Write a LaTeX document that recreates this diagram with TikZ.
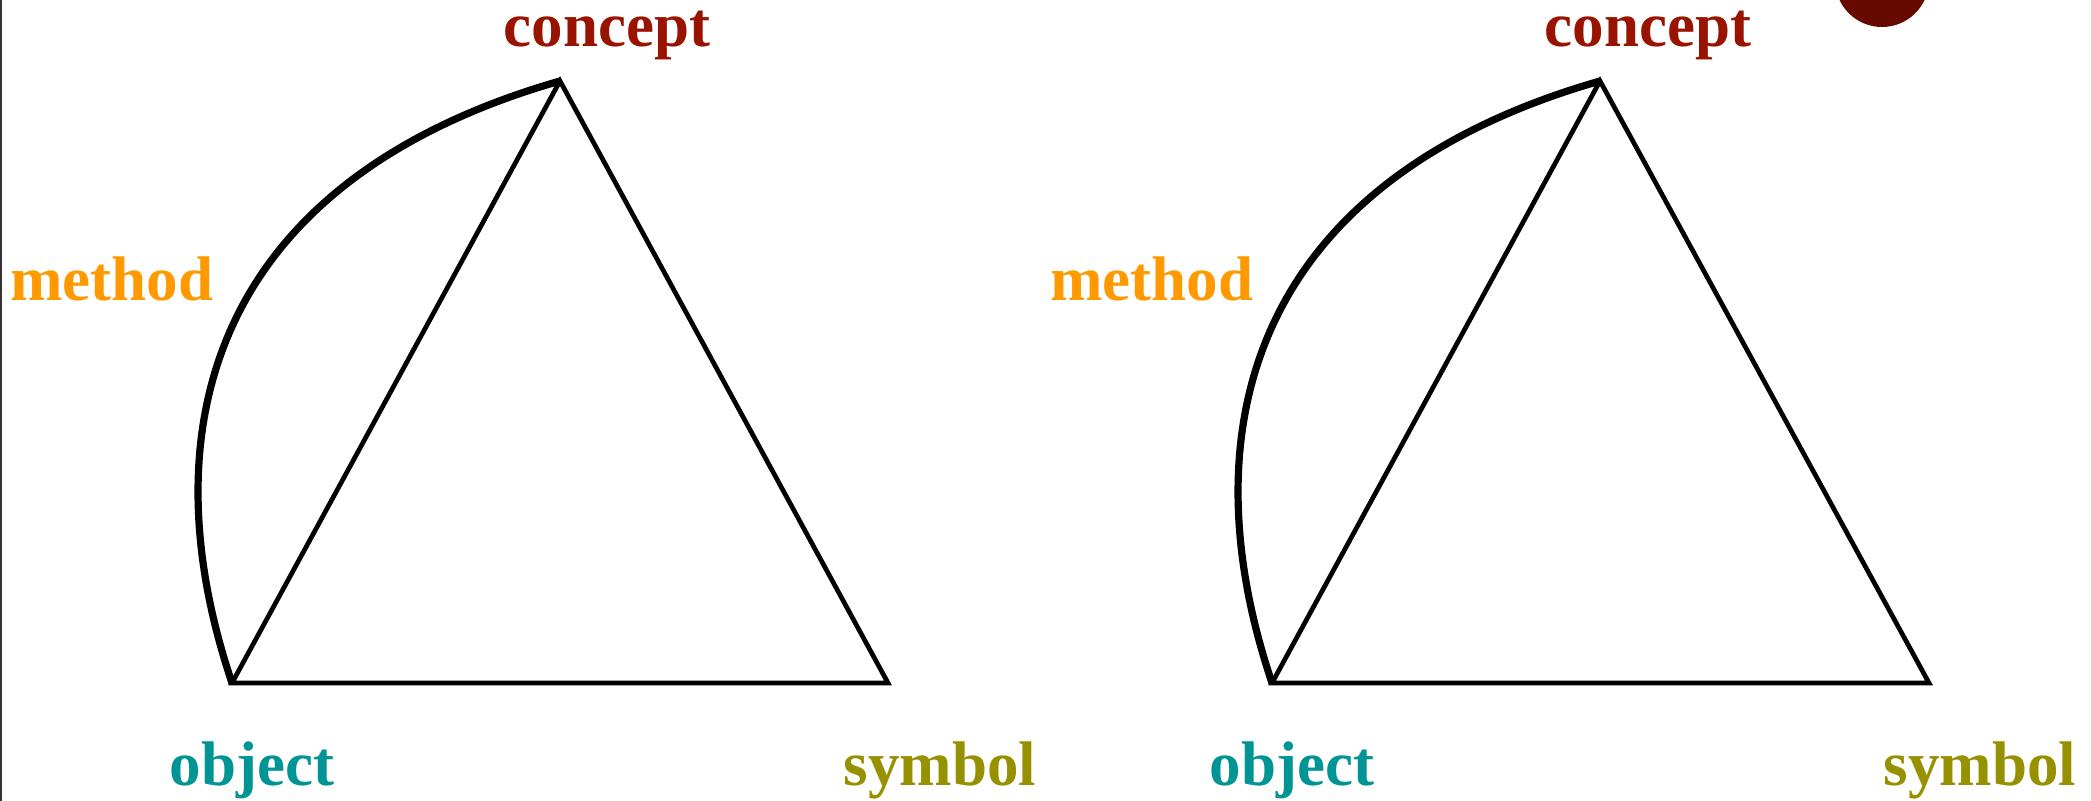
\documentclass[tikz,border=0pt]{standalone}
\usepackage{fontspec}
\setmainfont{Liberation Serif}
\usepackage{xcolor}
\usetikzlibrary{positioning}

\definecolor{conceptred}{RGB}{153,20,0}
\definecolor{methodorange}{RGB}{255,153,0}
\definecolor{objectteal}{RGB}{0,148,148}
\definecolor{symbololive}{RGB}{150,145,0}
\definecolor{dotred}{RGB}{102,10,0}

\begin{document}
\begin{tikzpicture}[
  x=0.5pt, y=-0.5pt,
  lbl/.style={anchor=base, inner sep=0pt, font=\fontsize{31.5}{38}\selectfont\bfseries},
  side/.style={line width=2.35pt, black},
  bow/.style={line width=3.6pt, black},
]
\useasboundingbox (0,0) rectangle (2091,801);
\draw[line width=1pt, black!80] (1,0) -- (1,801);
\fill[dotred] (1882,-20) circle[radius=23.5pt];

% left triangle
\coordinate (cL) at (560,81);
\coordinate (oL) at (232,683);
\coordinate (sL) at (888,683);
\node[lbl, text=conceptred]   (conceptL) at (607,47)  {concept};
\node[lbl, text=methodorange] (methodL)  at (112,301) {method};
\node[lbl, text=objectteal]   (objectL)  at (252,785) {object};
\node[lbl, text=symbololive]  (symbolL)  at (940,785) {symbol};
\draw[side] (cL) -- (oL) -- (sL) -- cycle;
\draw[bow] (cL) .. controls (215,180) and (145,425) .. (oL);

% right triangle
\coordinate (cR) at (1600,81);
\coordinate (oR) at (1272,683);
\coordinate (sR) at (1929,683);
\node[lbl, text=conceptred]   (conceptR) at (1648,47)  {concept};
\node[lbl, text=methodorange] (methodR)  at (1152,301) {method};
\node[lbl, text=objectteal]   (objectR)  at (1292,785) {object};
\node[lbl, text=symbololive]  (symbolR)  at (1980,785) {symbol};
\draw[side] (cR) -- (oR) -- (sR) -- cycle;
\draw[bow] (cR) .. controls (1255,180) and (1185,425) .. (oR);
\end{tikzpicture}
\end{document}
